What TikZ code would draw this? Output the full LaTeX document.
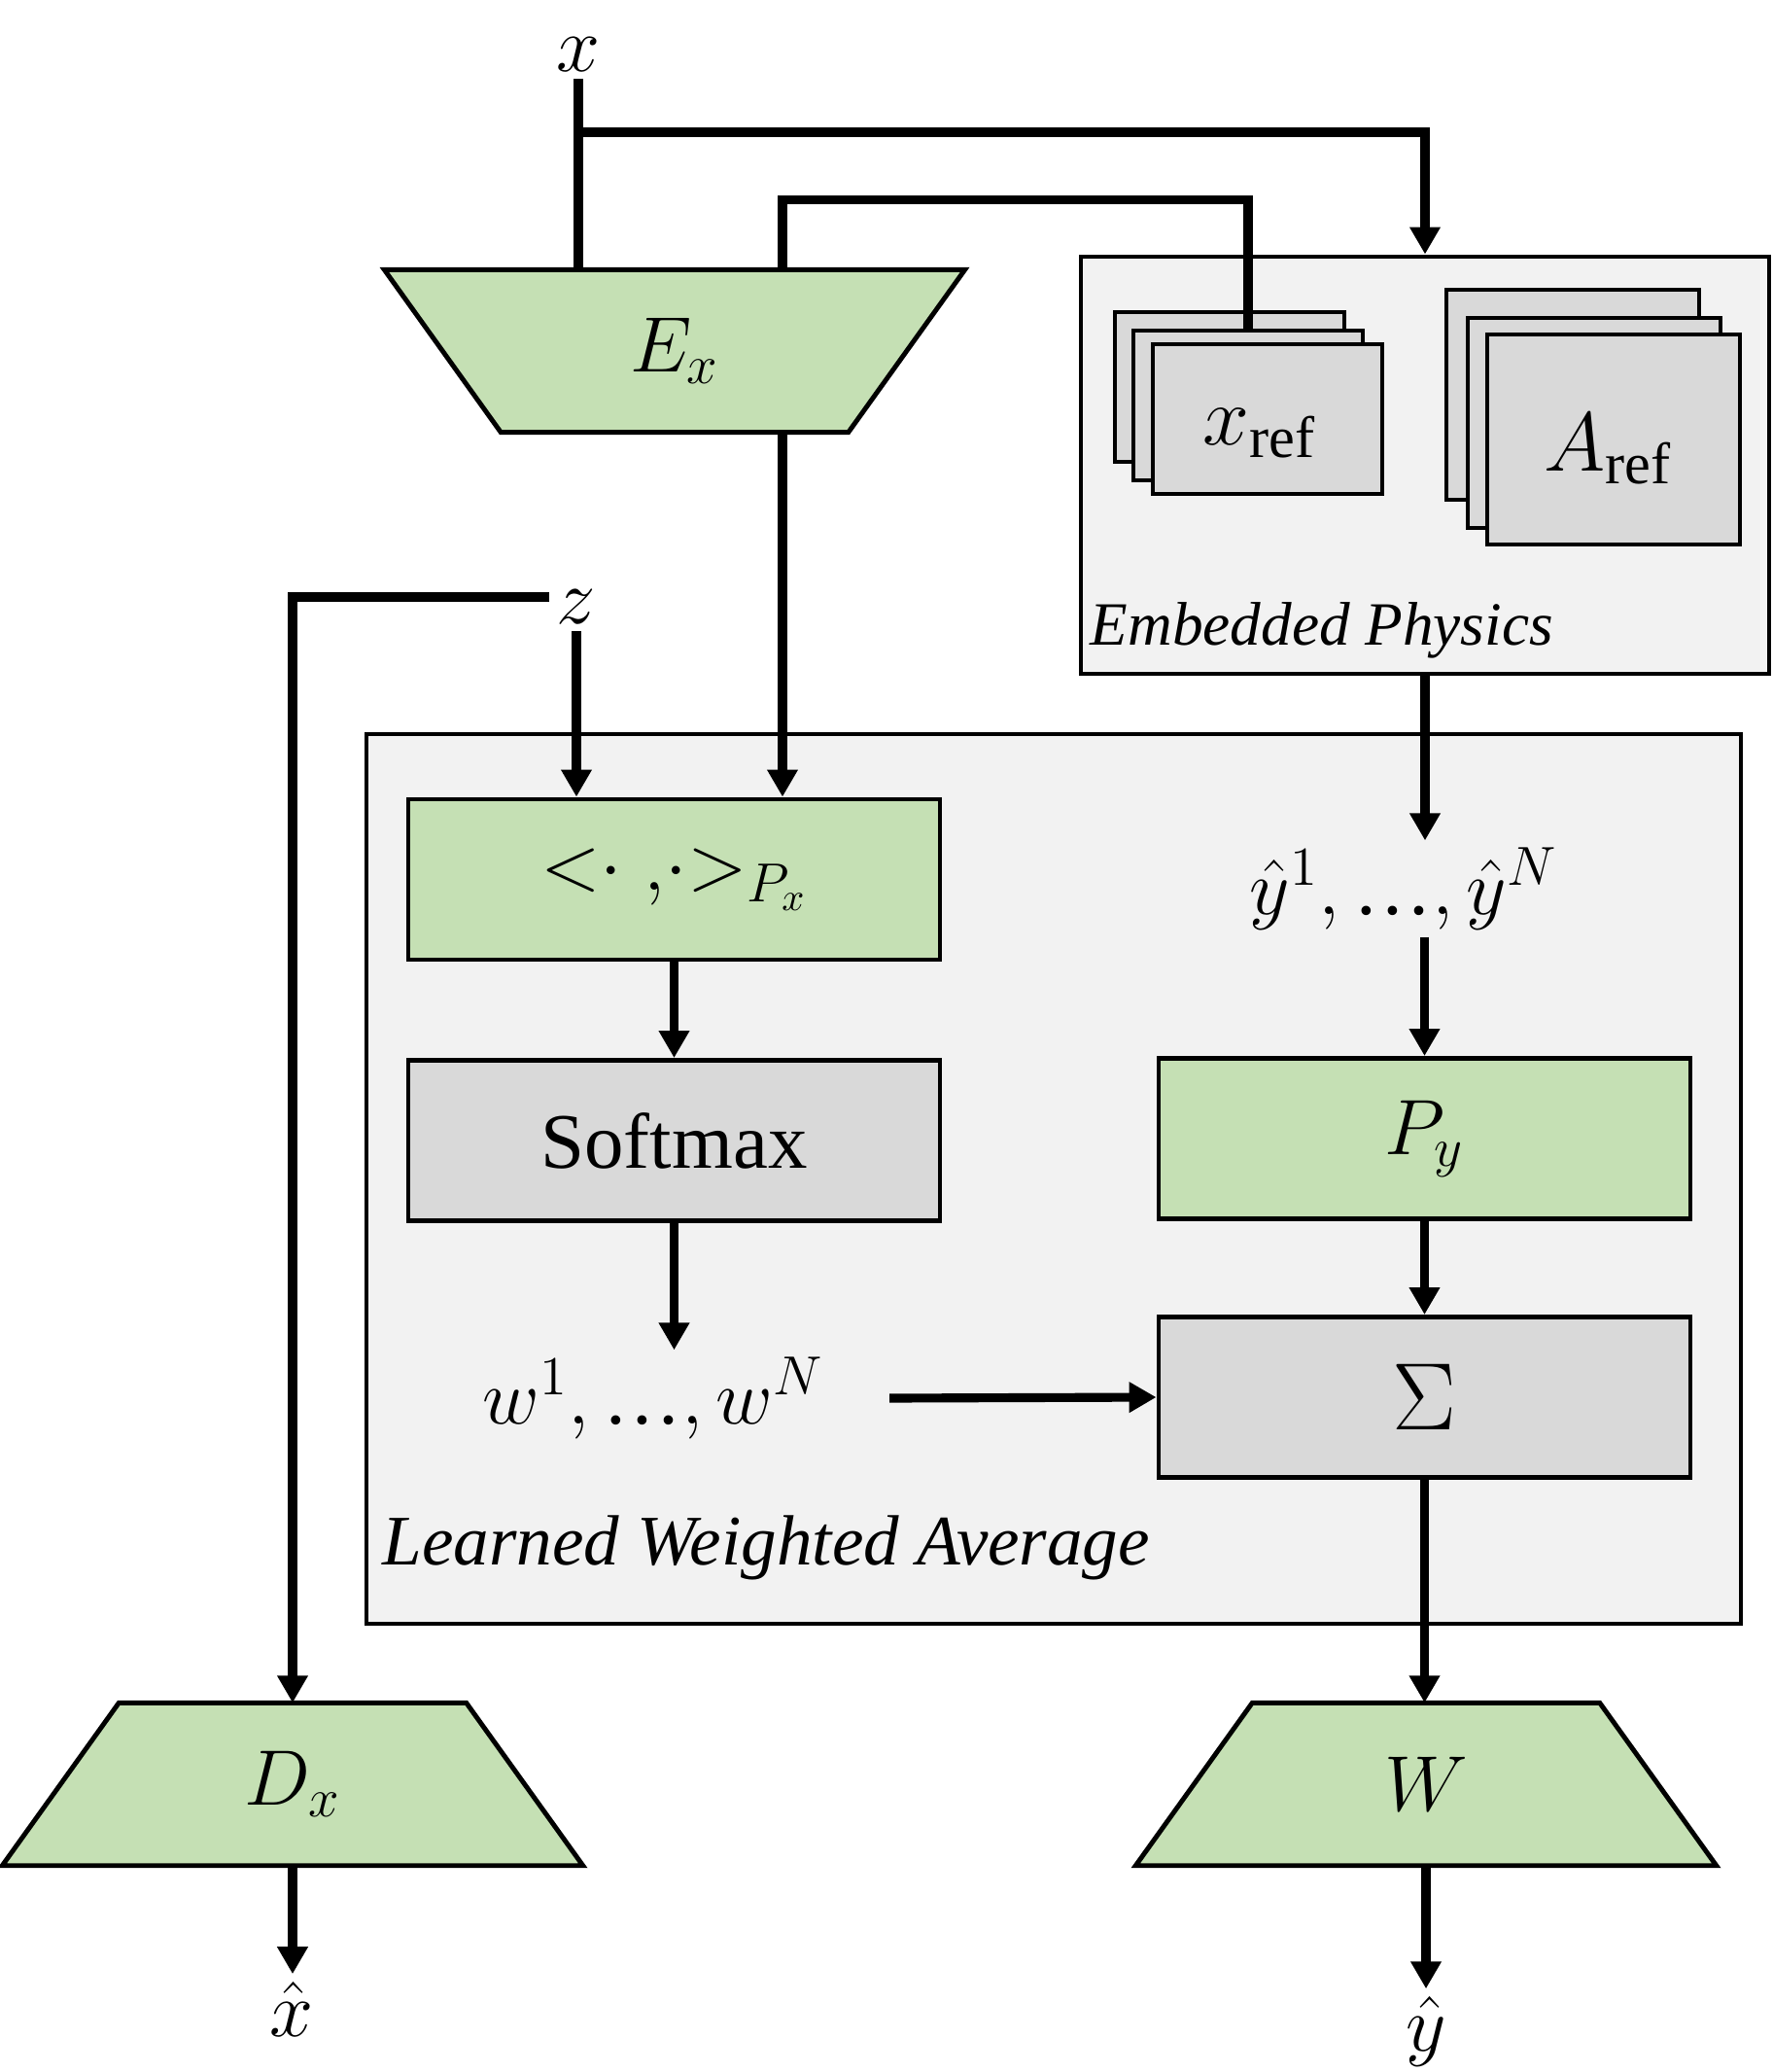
\RequirePackage{fix-cm}
\documentclass[tikz,border=0pt]{standalone}
\usepackage{fontspec}
\setmainfont{Liberation Serif}
\usetikzlibrary{shapes.geometric,arrows.meta,positioning}

\pgfdeclarelayer{background}
\pgfsetlayers{background,main}

\definecolor{netgreen}{HTML}{C5E0B4}
\definecolor{opgray}{HTML}{D9D9D9}
\definecolor{panelgray}{HTML}{F2F2F2}

\def\xrefstack{{(12.65,3.98)/xrefA}, {(12.84,4.17)/xrefB}, {(13.04,4.31)/xrefC}}
\def\Arefstack{{(16.18,4.06)/ArefA}, {(16.40,4.35)/ArefB}, {(16.60,4.52)/ArefC}}
\def\down{z/Px, Px/soft, soft/wlist, emb/yhats, Py/sum, sum/W, Dx/xhat, W/yhat}
\newcommand{\ellips}{\mbox{\normalfont\fontsize{23}{27}\selectfont …}}

\tikzstyle{box} = [draw, line width=1.4pt, minimum width=5.47cm, minimum height=1.65cm, inner sep=0pt, font=\fontsize{23}{27}\selectfont]
\tikzstyle{net box} = [box, fill=netgreen]
\tikzstyle{op box} = [box, fill=opgray]
\tikzstyle{trap} = [minimum width=5.96cm, minimum height=1.66cm, inner sep=0pt, font=\fontsize{23}{27}\selectfont]
\tikzstyle{trap line} = [draw, line width=1.4pt, fill=netgreen]
\tikzstyle{panel box} = [draw, line width=1.4pt, fill=panelgray, inner sep=0pt]
\tikzstyle{stack} = [draw, line width=1.4pt, fill=opgray, inner sep=0pt]
\tikzstyle{sym} = [inner sep=2pt, font=\fontsize{23}{27}\selectfont]
\tikzstyle{edge} = [draw, line width=2.6pt]
\tikzstyle{flow} = [edge, -{Triangle[length=0.28cm,width=0.30cm]}]

\begin{document}
\begin{tikzpicture}[y=-1cm]
  \useasboundingbox (0,0) rectangle (18.23,21.31);

  % The two panels
  \node[panel box, minimum width=14.14cm, minimum height=9.15cm] (lwa) at (10.84,12.125) {};
  \node[panel box, minimum width=7.08cm, minimum height=4.29cm] (emb) at (14.66,4.785) {};
  \node[anchor=west, inner sep=0pt, font=\fontsize{20.8}{24}\selectfont\itshape] (lwatext) at (3.93,15.92) {Learned Weighted Average};
  \node[anchor=west, inner sep=0pt, font=\fontsize{18}{22}\selectfont\itshape] (embtext) at (11.21,6.48) {Embedded Physics};

  % Stacked reference sets
  \foreach \pos/\name in \xrefstack {
    \node[stack, minimum width=2.36cm, minimum height=1.54cm] (\name) at \pos {};
  }
  \foreach \pos/\name in \Arefstack {
    \node[stack, minimum width=2.60cm, minimum height=2.16cm] (\name) at \pos {};
  }
  \node[sym, font=\fontsize{24.5}{28}\selectfont] (xreftext) at (12.96,4.46) {$x_{\mathrm{ref}}$};
  \node[sym, font=\fontsize{24.5}{28}\selectfont] (Areftext) at (16.54,4.62) {$A_{\mathrm{ref}}$};

  % Encoder, decoder and head
  \node[trap] (Ex) at (6.94,3.61) {$E_x$};
  \node[trap] (Dx) at (3.01,18.35) {$D_x$};
  \node[trap] (W) at (14.67,18.35) {$W$};
  \begin{pgfonlayer}{background}
    \path[trap line] (Ex.north west) -- (Ex.north east) -- ([xshift=-1.2cm]Ex.south east) -- ([xshift=1.2cm]Ex.south west) -- cycle;
    \foreach \name in {Dx, W}
      \path[trap line] ([xshift=1.2cm]\name.north west) -- ([xshift=-1.2cm]\name.north east) -- (\name.south east) -- (\name.south west) -- cycle;
  \end{pgfonlayer}

  % Blocks inside the weighted average
  \node[net box] (Px) at (6.935,9.045) {${<}\cdot\;,\!\cdot{>}_{P_x}$};
  \node[op box] (soft) at (6.935,11.73) {Softmax};
  \node[net box] (Py) at (14.655,11.71) {$P_y$};
  \node[op box, font=\fontsize{28}{32}\selectfont] (sum) at (14.655,14.37) {$\Sigma$};

  % Inputs, outputs and in-between values
  \node[sym] (xin) at (5.95,0.56) {$x$};
  \node[sym] (z) at (5.93,6.24) {$z$};
  \node[sym] (yhats) at (14.44,9.14) {$\hat{y}^1,\ellips,\hat{y}^N$};
  \node[sym] (wlist) at (6.72,14.38) {$w^1,\ellips,w^N$};
  \node[sym] (xhat) at (3.00,20.66) {$\hat{x}$};
  \node[sym] (yhat) at (14.67,20.89) {$\hat{y}$};

  % Straight arrows going down
  \foreach \source/\dest in \down
    \path[flow] (\source.south) -- (\source.south |- \dest.north);
  \path[flow] (Py.north |- yhats.south) -- (Py.north);
  \path[flow] ([xshift=0.6cm]wlist.east) -- (sum.west);

  % x goes into the encoder and into the physics
  \coordinate (xbr) at (5.95,1.36);
  \path[edge] (xin.south) -- (xin.south |- Ex.north);
  \path[flow] (xbr) -| (emb.north);

  % Encoder output to the inner product and to the references
  \path[edge] ([xshift=1.11cm]Ex.north) -- ++(0,-0.72) -| (xrefB.north);
  \path[flow] ([xshift=1.11cm]Ex.south) -- ([xshift=1.11cm]Ex.south |- Px.north);

  % z also goes to the decoder
  \path[flow] ([yshift=0.1cm]z.west) -| (Dx.north);
\end{tikzpicture}
\end{document}
